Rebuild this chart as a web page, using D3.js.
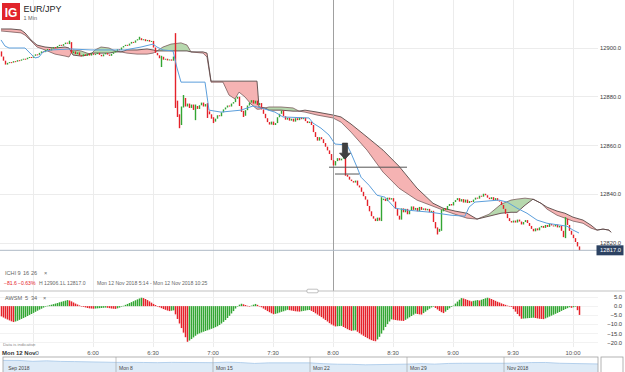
<!DOCTYPE html>
<html>
<head>
<meta charset="utf-8">
<script src="https://cdn.jsdelivr.net/npm/d3@7"></script>
<style>
  html, body { margin: 0; padding: 0; background: #fff; }
  svg { display: block; font-family: "Liberation Sans", Arial, sans-serif; }
</style>
</head>
<body>
<svg id="chart" width="625" height="372"></svg>
<script>
// EUR/JPY, 1 min candles, Mon 12 Nov 2018 5:14 - 10:25
const startTime = new Date(2018, 10, 12, 5, 14);
const endTime = new Date(2018, 10, 12, 10, 24);
const firstOpen = 12898.6;

// one close per minute
const closes = [
  12896.5, 12894.8, 12893.2, 12893.9,
  12894.2, 12894.0, 12894.6, 12894.4, 12895.0, 12894.8, 12895.3, 12895.6, 12895.4, 12896.0, 12896.3,
  12896.0, 12896.8, 12897.4, 12897.2, 12898.0, 12898.6, 12898.3, 12899.2,
  12899.6, 12899.0, 12899.8, 12900.4, 12900.1, 12900.8, 12901.3, 12900.9, 12901.6, 12902.2, 12901.8,
  12902.4, 12897.9,
  12898.6, 12897.5, 12898.2, 12897.0, 12896.6, 12897.4, 12896.8, 12897.6, 12896.9, 12897.8, 12897.2,
  12897.5, 12898.0, 12897.2, 12896.6, 12897.4, 12897.9, 12897.3, 12896.8, 12897.6, 12898.2,
  12898.8, 12899.5, 12899.2, 12900.2, 12900.8, 12901.3,
  12901.0, 12901.8, 12902.5, 12902.2, 12903.1, 12903.6, 12904.0,
  12903.2, 12903.6, 12902.8, 12903.3, 12902.6, 12902.9,
  12900.2, 12898.0, 12897.0,
  12895.8, 12896.4, 12895.2, 12895.6, 12894.9, 12895.3, 12894.8,
  12896.5, 12878.0, 12872.5, 12868.4, 12876.0, 12879.5, 12876.0,
  12877.2, 12875.4, 12876.8, 12874.6, 12876.2, 12875.0,
  12876.5, 12877.6, 12876.0, 12877.0, 12874.0,
  12872.8, 12871.0, 12869.8,
  12871.0, 12872.4, 12872.0, 12873.6, 12874.8,
  12875.6, 12876.4, 12876.0, 12877.2, 12877.8, 12879.2, 12880.0,
  12876.2, 12873.8, 12872.2,
  12874.5, 12876.4, 12877.6, 12878.6,
  12877.2, 12878.4, 12876.6, 12877.4,
  12874.8, 12873.0, 12871.2, 12869.6, 12868.6,
  12869.8, 12868.4, 12869.2, 12871.6,
  12873.0, 12874.3, 12872.0,
  12870.6, 12871.4, 12870.2, 12871.0, 12869.8,
  12871.2, 12870.4, 12871.6, 12870.8, 12871.4,
  12870.0, 12869.2, 12869.8, 12868.4,
  12865.5, 12863.5, 12862.0, 12863.4, 12862.6, 12861.0,
  12859.5, 12858.0, 12856.5,
  12854.0, 12851.8,
  12853.6, 12854.8, 12853.9, 12854.6, 12855.2,
  12848.0,
  12847.2, 12846.0, 12845.4,
  12844.8, 12845.6, 12843.6, 12842.8,
  12841.0, 12839.2, 12837.8,
  12835.2, 12833.0, 12831.0,
  12830.0, 12829.0, 12830.4, 12829.2,
  12837.6,
  12838.2, 12837.2, 12838.6, 12837.8, 12838.4, 12837.0,
  12834.0, 12831.2, 12829.6,
  12834.2,
  12832.6, 12834.0, 12831.8, 12833.2, 12835.0, 12833.6,
  12834.4, 12833.0, 12834.8, 12833.6, 12834.2,
  12833.4, 12834.0, 12832.6, 12833.2,
  12828.6, 12826.0, 12824.6,
  12825.8,
  12833.0,
  12834.2, 12833.6, 12835.2, 12836.0, 12835.4, 12836.8, 12837.6,
  12838.4, 12837.0, 12838.0, 12836.6, 12837.8, 12836.4, 12837.2, 12836.8,
  12837.8, 12838.6, 12838.2, 12839.4, 12839.0,
  12840.2, 12839.6,
  12838.6, 12838.0, 12838.8, 12837.6, 12838.4, 12837.4,
  12837.0, 12835.6, 12834.0, 12832.0, 12830.2, 12829.0, 12828.4,
  12829.2, 12828.4, 12829.6, 12828.8, 12827.6, 12828.6, 12829.4, 12828.2,
  12827.0, 12825.8, 12824.8, 12826.0, 12825.2,
  12826.4, 12827.0, 12826.2, 12827.4, 12826.6, 12827.8, 12827.2, 12826.8, 12827.6, 12826.4, 12827.0,
  12825.0, 12822.4,
  12830.0,
  12827.4, 12825.0,
  12823.4, 12822.0, 12820.4, 12818.6, 12817.0
];

// [minute, high, low] for candles with visible wicks
const wicks = [
  [34, 12903.0, 12901.6], [69, 12904.6, 12903.4], [80, 12896.8, 12892.2],
  [87, 12906.1, 12875.4], [88, 12878.4, 12871.7], [89, 12872.8, 12867.1],
  [91, 12880.7, 12875.6], [97, 12876.8, 12870.4], [103, 12877.4, 12871.3],
  [106, 12871.6, 12869.2], [121, 12874.2, 12871.7], [172, 12853.2, 12847.6],
  [190, 12838.8, 12829.0], [218, 12826.4, 12823.5], [220, 12833.6, 12825.0],
  [282, 12830.6, 12822.0]
];

// conversion line (blue)
const tenkanIdx = [0, 2, 4, 12, 15, 17, 19, 21, 25, 35, 45, 55, 62, 70, 76, 78, 81, 86, 88, 90,
  102, 104, 110, 120, 126, 130, 137, 141, 154, 156, 160, 164, 167, 173, 175, 178, 180, 184, 188, 192,
  197, 203, 215, 225, 232, 234, 237, 249, 253, 258, 263, 268, 273, 283, 286, 289];
const tenkan = [12903.3, 12900.8, 12900.0, 12900.0, 12897.5, 12895.9, 12896.3, 12898.4, 12899.2, 12899.6,
  12899.2, 12899.2, 12899.2, 12900.4, 12901.6, 12900.4, 12899.2, 12898.8, 12891.8, 12886.0,
  12886.0, 12874.5, 12873.7, 12874.5, 12876.2, 12875.4, 12873.7, 12871.7, 12871.3, 12869.2,
  12867.1, 12864.3, 12860.6, 12860.2, 12856.9, 12851.1, 12847.0, 12843.7, 12839.6, 12838.8,
  12834.3, 12833.5, 12832.6, 12831.4, 12831.0, 12834.7, 12836.8, 12837.6, 12836.8, 12834.3,
  12832.2, 12829.4, 12828.1, 12826.9, 12825.3, 12824.1];

// cloud (leading spans, plotted 16 periods ahead)
const cloudIdx = [0, 5, 10, 12, 15, 18, 22, 27, 32, 34, 36, 40, 43, 45, 47, 50, 54, 57, 60, 63,
  68, 73, 76, 78, 81, 85, 90, 93, 95, 101, 103, 105, 111, 114, 117, 119, 122, 125, 128, 129,
  132, 134, 140, 146, 149, 152, 158, 166, 170, 175, 183, 191, 199, 208, 216, 221, 227, 233, 238, 244,
  250, 255, 258, 262, 266, 270, 273, 278, 282, 286, 291, 295, 298, 301, 304, 305];
const spanA = [12907.0, 12906.6, 12906.2, 12905.3, 12902.9, 12900.4, 12899.2, 12897.5, 12896.7, 12896.3,
  12899.2, 12898.8, 12897.9, 12897.5, 12899.2, 12900.4, 12900.0, 12898.8, 12898.4, 12897.9,
  12897.5, 12897.5, 12897.9, 12898.8, 12900.4, 12901.6, 12902.1, 12901.2, 12898.4, 12897.9,
  12896.3, 12886.0, 12886.0, 12880.7, 12879.1, 12881.9, 12879.9, 12877.0, 12874.9, 12874.9,
  12875.4, 12875.8, 12875.8, 12875.4, 12874.1, 12873.7, 12872.5, 12871.3, 12869.6, 12865.5,
  12858.1, 12849.1, 12842.5, 12837.6, 12835.1, 12833.5, 12831.8, 12830.2, 12829.8, 12831.8,
  12835.9, 12837.6, 12838.0, 12838.4, 12838.0, 12836.3, 12833.9, 12831.4, 12830.2, 12829.0,
  12828.1, 12826.1, 12825.3, 12825.7, 12825.3, 12824.4];
const spanB = [12907.8, 12907.8, 12907.4, 12906.2, 12903.3, 12901.2, 12900.4, 12900.0, 12900.4, 12900.0,
  12897.1, 12896.7, 12897.1, 12897.9, 12897.9, 12897.9, 12897.9, 12898.4, 12898.4, 12899.2,
  12899.2, 12899.6, 12899.2, 12898.8, 12898.8, 12898.8, 12898.8, 12898.8, 12898.4, 12898.4,
  12897.9, 12886.4, 12886.4, 12886.4, 12886.4, 12886.4, 12886.4, 12886.4, 12886.4, 12875.8,
  12875.4, 12874.5, 12874.5, 12874.1, 12874.1, 12874.5, 12873.7, 12872.5, 12871.7, 12868.8,
  12863.5, 12858.1, 12851.5, 12842.5, 12836.3, 12834.3, 12833.1, 12832.2, 12829.8, 12831.0,
  12832.2, 12832.6, 12832.6, 12835.5, 12838.0, 12836.3, 12834.7, 12833.1, 12832.2, 12830.6,
  12829.4, 12827.3, 12825.3, 12825.7, 12825.3, 12824.4];

// awesome oscillator, one value per minute
const awsm = [
  -5.6, -6.2, -6.8, -7.3, -7.8, -8.3, -8.7,
  -8.4, -8.0, -7.5, -7.0, -6.5, -6.0, -5.4, -4.8, -4.3, -3.7, -3.1, -2.5, -1.9, -1.4, -0.8, -0.3,
  0.2, 0.5, 0.8, 1.1, 1.4, 1.7, 2.1, 2.4, 2.7, 3.0, 3.3,
  3.1, 2.6, 2.0, 1.4, 0.9, 0.4, 0.0,
  -0.4, -0.7, -1.0, -1.2, -1.3, -1.4,
  -1.3, -1.2, -1.1, -1.0, -0.9, -0.8,
  -0.9, -1.1, -1.3, -1.4, -1.5,
  -1.2, -0.8, -0.3, 0.2, 0.7, 1.2, 1.7, 2.2, 2.7, 3.2, 3.7, 4.2, 4.6,
  4.4, 3.9, 3.3, 2.6, 1.9, 1.2, 0.6, 0.0,
  -0.6, -1.1, -1.6, -2.0, -2.4, -2.7,
  -2.5, -2.3,
  -4.5, -7.0, -9.5, -12.0, -14.5, -17.0, -19.5,
  -18.8, -18.0, -17.1, -16.2, -15.4, -14.9, -14.4, -14.0, -13.6, -13.2, -12.8, -12.4, -12.0,
  -11.5, -11.0, -10.3, -9.5, -8.6, -7.6, -6.5, -5.3, -4.0, -2.7, -1.3, -0.1,
  0.8, 1.3, 1.0, 0.6, 0.2, -0.1, 0.3, 0.8, 1.2, 0.7, 0.1,
  -0.6, -1.3, -2.0, -2.7, -3.3, -3.9, -4.4,
  -4.2, -3.9, -3.5, -3.1, -2.8, -2.4, -2.0,
  -2.2, -2.4, -2.6, -2.8, -2.9, -3.0,
  -2.8, -2.6, -2.4, -2.2, -2.1,
  -2.6, -3.2, -3.9, -4.6, -5.3, -6.0, -6.8, -7.6, -8.4, -9.3,
  -10.0, -10.6, -11.1, -11.0, -10.9, -10.8,
  -11.4, -12.0, -12.6, -13.1, -13.5, -13.3, -13.2, -14.0, -14.8,
  -15.5, -16.2, -16.9, -17.5, -18.1, -18.6, -19.0, -19.2,
  -18.2, -16.8, -15.0, -13.2, -11.4, -9.8, -8.4, -7.2,
  -7.4, -7.6, -7.8, -7.9, -8.0, -8.1,
  -7.5, -6.8, -6.1, -5.4, -4.7, -4.1,
  -4.3, -4.5, -4.6,
  -3.8, -3.0, -2.2, -1.4, -0.7, -0.3,
  -1.0, -1.8, -2.6, -3.3, -3.8,
  -3.0, -2.1, -1.2, -0.4, 0.3,
  1.4, 2.5, 3.5, 4.4,
  4.2, 3.8, 3.4, 3.0, 2.6,
  2.9, 3.1, 3.3,
  3.1,
  3.5, 3.9, 4.3, 4.6,
  4.3, 3.9, 3.4, 2.9, 2.4, 2.0, 1.5, 1.1, 0.7, 0.3, 0.1, -0.4,
  -1.6, -3.0, -4.3, -5.5, -6.9,
  -6.8, -6.7, -6.6, -6.5, -6.4, -6.3,
  -6.5, -6.7, -6.9, -7.0, -7.1,
  -6.7, -6.2, -5.7, -5.2, -4.7, -4.2, -3.7, -3.2, -2.6, -2.1, -1.6, -1.1, -0.6, -0.9, -0.6, -0.3, -2.2, -4.8
];

const priceTicks = [12820, 12840, 12860, 12880, 12900];
const awsmTicks = [5, 0, -5, -10, -15, -20];

// navigator (daily closes)
const navDates = ["2018-09-28", "2018-10-01", "2018-10-02", "2018-10-03", "2018-10-04", "2018-10-05",
  "2018-10-08", "2018-10-09", "2018-10-10", "2018-10-11", "2018-10-12",
  "2018-10-15", "2018-10-16", "2018-10-17", "2018-10-18", "2018-10-19",
  "2018-10-22", "2018-10-23", "2018-10-24", "2018-10-25", "2018-10-26",
  "2018-10-29", "2018-10-30", "2018-10-31", "2018-11-01", "2018-11-02",
  "2018-11-05", "2018-11-06", "2018-11-07", "2018-11-08", "2018-11-09", "2018-11-12"];
const navValues = [132.0, 131.9, 131.0, 131.5, 130.9, 130.7,
  129.9, 129.9, 129.8, 129.6, 129.9,
  129.6, 130.1, 129.7, 128.8, 129.4,
  129.4, 128.5, 128.0, 127.9, 127.4,
  128.1, 128.6, 128.1, 128.8, 129.0,
  129.0, 129.2, 129.7, 129.8, 129.0, 128.2];
const navLabelDates = ["2018-09-30", "2018-10-08", "2018-10-15", "2018-10-22", "2018-10-29", "2018-11-05"];
const navLabels = ["Sep 2018", "Mon 8", "Mon 15", "Mon 22", "Mon 29", "Nov 2018"];

// user drawings on the chart: [minute, price]
const arrowAt = [172.5, 12861.0, 12854.4];
const hLines = [[164.5, 203.5, 12851.1], [167, 179.5, 12848.3]];

const W = 625, H = 372;
const green = "#33a633", red = "#e5222a";
const svg = d3.select("#chart");
const parseDay = d3.timeParse("%Y-%m-%d");

const tOf = m => d3.timeMinute.offset(startTime, m);
const x = d3.scaleTime().domain([startTime, endTime]).range([1, 621]);
const xm = m => x(tOf(m));
const y = d3.scaleLinear().domain([12820, 12900]).range([243, 48]);
const ya = d3.scaleLinear().domain([-20, 5]).range([342.7, 297]);

const candles = closes.map((c, i) => {
  const o = i === 0 ? firstOpen : closes[i - 1];
  return {m: i, o: o, c: c, h: Math.max(o, c), l: Math.min(o, c)};
});
wicks.forEach(([m, h, l]) => {
  candles[m].h = Math.max(candles[m].h, h);
  candles[m].l = Math.min(candles[m].l, l);
});

// grid
const timeTicks = x.ticks(d3.timeMinute.every(30));
const grid = svg.append("g").attr("shape-rendering", "crispEdges");
grid.selectAll(".vg").data(timeTicks).join("line")
  .attr("x1", d => x(d) + 0.5).attr("x2", d => x(d) + 0.5)
  .attr("y1", 0).attr("y2", 347)
  .attr("stroke", "#ececec");
grid.selectAll(".hg").data(priceTicks).join("line")
  .attr("x1", 0).attr("x2", 598)
  .attr("y1", d => y(d)).attr("y2", d => y(d))
  .attr("stroke", "#ececec");
grid.selectAll(".ag").data(awsmTicks).join("line")
  .attr("x1", 0).attr("x2", 598)
  .attr("y1", d => ya(d)).attr("y2", d => ya(d))
  .attr("stroke", "#f2f2f2");

// cloud
const cloud = cloudIdx.map((m, i) => ({m: m, a: spanA[i], b: spanB[i]}));
const defs = svg.append("defs");
defs.append("clipPath").attr("id", "upB").append("path")
  .attr("d", d3.area().x(d => xm(d.m)).y0(0).y1(d => y(d.b))(cloud));
defs.append("clipPath").attr("id", "downB").append("path")
  .attr("d", d3.area().x(d => xm(d.m)).y0(H).y1(d => y(d.b))(cloud));
const band = d3.area().x(d => xm(d.m)).y0(d => y(d.a)).y1(d => y(d.b));
svg.append("path").attr("d", band(cloud)).attr("fill", "#b7d8ae").attr("clip-path", "url(#upB)");
svg.append("path").attr("d", band(cloud)).attr("fill", "#f5b3b3").attr("clip-path", "url(#downB)");
svg.append("path").datum(cloud)
  .attr("d", d3.line().x(d => xm(d.m)).y(d => y(d.a)))
  .attr("fill", "none").attr("stroke", "#7a5c5c").attr("stroke-width", 0.8);
svg.append("path").datum(cloud)
  .attr("d", d3.line().x(d => xm(d.m)).y(d => y(d.b)))
  .attr("fill", "none").attr("stroke", "#5a4646").attr("stroke-width", 0.9);

// crosshair at 8:00
const crossT = new Date(2018, 10, 12, 8, 0);
svg.append("line")
  .attr("x1", x(crossT) + 0.5).attr("x2", x(crossT) + 0.5)
  .attr("y1", 0).attr("y2", 291)
  .attr("stroke", "#a0a0a0");

// candles
svg.append("g").selectAll("rect").data(candles).join("rect")
  .attr("x", d => Math.round(xm(d.m)) - 0.2)
  .attr("width", 1.4)
  .attr("y", d => y(d.h))
  .attr("height", d => Math.max(1, y(d.l) - y(d.h)))
  .attr("fill", d => d.c > d.o ? green : red);

// conversion line
svg.append("path").datum(tenkanIdx.map((m, i) => [m, tenkan[i]]))
  .attr("d", d3.line().x(d => xm(d[0])).y(d => y(d[1])))
  .attr("fill", "none").attr("stroke", "#5c9fdc").attr("stroke-width", 1);

// drawings
svg.selectAll(".hl").data(hLines).join("line")
  .attr("x1", d => xm(d[0])).attr("x2", d => xm(d[1]))
  .attr("y1", d => y(d[2])).attr("y2", d => y(d[2]))
  .attr("stroke", "#555").attr("stroke-width", 1);
{
  const ax = xm(arrowAt[0]), top = y(arrowAt[1]), tip = y(arrowAt[2]);
  const neck = tip - 6;
  svg.append("path")
    .attr("d", `M${ax - 2.6},${top}H${ax + 2.6}V${neck}H${ax + 5.5}L${ax},${tip}L${ax - 5.5},${neck}H${ax - 2.6}Z`)
    .attr("fill", "#404040").attr("stroke", "#2a2a2a").attr("stroke-width", 0.6);
}

// last price line
const last = closes[closes.length - 1];
svg.append("line")
  .attr("x1", 0).attr("x2", 597)
  .attr("y1", y(last)).attr("y2", y(last))
  .attr("stroke", "#aeb9c6").attr("stroke-width", 1);

// price axis labels
svg.selectAll(".pl").data(priceTicks).join("text")
  .attr("x", 621).attr("y", d => y(d) + 2)
  .attr("text-anchor", "end").attr("font-size", 5.8).attr("fill", "#3a3a3a")
  .text(d => d3.format(".1f")(d));
svg.append("rect")
  .attr("x", 596.5).attr("y", y(last) - 5).attr("width", 27).attr("height", 10)
  .attr("fill", "#2c4262");
svg.append("text")
  .attr("x", 621).attr("y", y(last) + 2.1)
  .attr("text-anchor", "end").attr("font-size", 5.8).attr("fill", "#fff")
  .text(d3.format(".1f")(last));

// header
svg.append("rect").attr("x", 2).attr("y", 3).attr("width", 18).attr("height", 17).attr("fill", "#e1242b");
svg.append("text").attr("x", 11).attr("y", 16.5).attr("text-anchor", "middle")
  .attr("font-size", 12).attr("font-weight", "bold").attr("fill", "#fff").text("IG");
svg.append("text").attr("x", 23.5).attr("y", 12).attr("font-size", 9).attr("fill", "#222").text("EUR/JPY");
svg.append("text").attr("x", 23.5).attr("y", 19.5).attr("font-size", 5.5).attr("fill", "#666").text("1 Min");

// legend rows
const hi = d3.max(candles, d => d.h), lo = d3.min(candles, d => d.l);
const chg = last - firstOpen;
const fmtT = d3.timeFormat("%a %-d %b %Y %-H:%M");
const leg1 = [["ICHI", 5], ["9", 17.5], ["16", 23], ["26", 31], ["\u00d7", 44]];
svg.selectAll(".l1").data(leg1).join("text")
  .attr("x", d => d[1]).attr("y", 274.5)
  .attr("font-size", 5.6).attr("fill", "#666").text(d => d[0]);
const leg2 = [
  [d3.format(".1f")(chg), 4, red],
  [d3.format(".2f")(chg / firstOpen * 100) + "%", 18, red],
  ["H " + d3.format(".1f")(hi), 39, "#666"],
  ["L " + d3.format(".1f")(lo), 63, "#666"],
  [fmtT(startTime) + " - " + fmtT(d3.timeMinute.offset(endTime, 1)), 97, "#666"]
];
svg.selectAll(".l2").data(leg2).join("text")
  .attr("x", d => d[1]).attr("y", 285)
  .attr("font-size", 5.1).attr("fill", d => d[2]).text(d => d[0]);

// pane separator
svg.append("line").attr("x1", 0).attr("x2", W).attr("y1", 291).attr("y2", 291)
  .attr("stroke", "#c2c2c2").attr("stroke-width", 1.2);
svg.append("rect").attr("x", 307).attr("y", 289.2).attr("width", 11).attr("height", 3.6).attr("rx", 1)
  .attr("fill", "#fff").attr("stroke", "#999").attr("stroke-width", 0.6);

// awesome oscillator
const aw = awsm.map((v, i) => ({m: i, v: v, up: i > 0 && v > awsm[i - 1]}));
svg.append("g").selectAll("rect").data(aw).join("rect")
  .attr("x", d => Math.round(xm(d.m)) - 0.25).attr("width", 1.5)
  .attr("y", d => Math.min(ya(0), ya(d.v)))
  .attr("height", d => Math.max(0.5, Math.abs(ya(d.v) - ya(0))))
  .attr("fill", d => d.up ? green : red);
const leg3 = [["AWSM", 5], ["5", 25], ["34", 31], ["\u00d7", 43]];
svg.selectAll(".l3").data(leg3).join("text")
  .attr("x", d => d[1]).attr("y", 300)
  .attr("font-size", 5.6).attr("fill", "#666").text(d => d[0]);
svg.selectAll(".al").data(awsmTicks).join("text")
  .attr("x", 622).attr("y", d => ya(d) + 2)
  .attr("text-anchor", "end").attr("font-size", 5.8).attr("fill", "#3a3a3a")
  .text(d => d3.format(".1f")(d));

// time axis; the first tick label sits under the date badge, only its tail shows
svg.append("text").attr("x", 3).attr("y", 346).attr("font-size", 4.3).attr("fill", "#888").text("Data is indicative");
defs.append("clipPath").attr("id", "tickClip").append("rect")
  .attr("x", 35).attr("y", 340).attr("width", W).attr("height", 20);
svg.append("g").attr("clip-path", "url(#tickClip)")
  .selectAll("text").data(timeTicks).join("text")
  .attr("x", d => x(d)).attr("y", 354.5)
  .attr("text-anchor", "middle").attr("font-size", 6).attr("fill", "#555")
  .text(d3.timeFormat("%-H:%M"));
svg.append("text").attr("x", 2).attr("y", 354.5).attr("font-size", 6).attr("font-weight", 600)
  .attr("fill", "#333").text(d3.timeFormat("%a %-d %b")(startTime));

// navigator
const nx = d3.scaleTime().domain([parseDay("2018-10-08"), parseDay("2018-11-05")]).range([116, 504]);
const ny = d3.scaleLinear().domain([120, 134]).range([372, 358.4]);
const navData = navDates.map((d, i) => [parseDay(d), navValues[i]]);
defs.append("clipPath").attr("id", "navClip").append("rect")
  .attr("x", 3).attr("y", 357).attr("width", 595).attr("height", 20);
const ng = svg.append("g").attr("clip-path", "url(#navClip)");
ng.append("path").datum(navData)
  .attr("d", d3.area().x(d => nx(d[0])).y0(H + 5).y1(d => ny(d[1])))
  .attr("fill", "#deebf7");
ng.append("path").datum(navData)
  .attr("d", d3.line().x(d => nx(d[0])).y(d => ny(d[1])))
  .attr("fill", "none").attr("stroke", "#a4c6e8").attr("stroke-width", 0.8);
const navL = navLabelDates.map((d, i) => [parseDay(d), navLabels[i]]);
ng.selectAll(".nd").data(navL.slice(1)).join("line")
  .attr("x1", d => nx(d[0])).attr("x2", d => nx(d[0]))
  .attr("y1", 357).attr("y2", H)
  .attr("stroke", "#a8a8a8").attr("stroke-width", 0.7);
ng.selectAll(".nt").data(navL).join("text")
  .attr("x", d => Math.max(8, nx(d[0]) + 3)).attr("y", 369.5)
  .attr("font-size", 5).attr("fill", "#444").text(d => d[1]);
svg.append("rect").attr("x", 3).attr("y", 357).attr("width", 595).attr("height", 20)
  .attr("fill", "none").attr("stroke", "#a0a0a0").attr("stroke-width", 0.8);
svg.append("rect").attr("x", 601).attr("y", 357).attr("width", 22).attr("height", 20)
  .attr("fill", "none").attr("stroke", "#a0a0a0").attr("stroke-width", 0.8);
</script>
</body>
</html>
